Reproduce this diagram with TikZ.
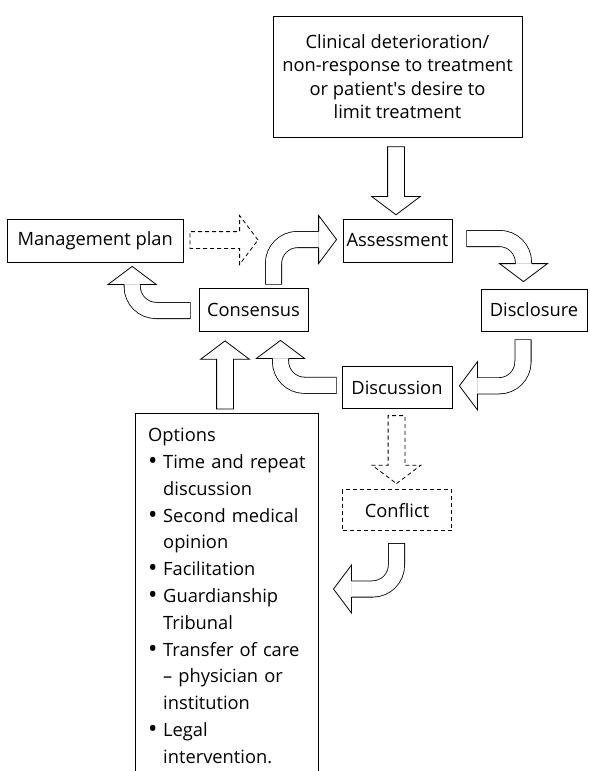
\documentclass[tikz,border=0pt]{standalone}
\usepackage{fontspec}
\setmainfont{Open Sans}
\usetikzlibrary{positioning,calc,shapes.arrows}

\tikzstyle{stage} = [rectangle, draw=black, line width=0.8pt, minimum width=109pt, minimum height=43pt, inner sep=0pt, text centered, font=\fontsize{18.3}{23.3}\selectfont]
\tikzstyle{stagedash} = [stage, dash pattern=on 4pt off 3pt]
\tikzstyle{trigger} = [stage, minimum width=249pt, minimum height=121pt, align=center]
\tikzstyle{optionlist} = [rectangle, inner xsep=13pt, inner ysep=15pt, text width=157pt, align=left, font=\fontsize{18.3}{26.8}\selectfont]
\tikzstyle{fatarrow} = [single arrow, draw=black, line width=0.8pt, fill=white, minimum width=48pt, minimum height=68pt, inner sep=8pt, single arrow head extend=16pt, single arrow tip angle=106]
\tikzstyle{fatdashed} = [fatarrow, dash pattern=on 4pt off 3pt]
\tikzstyle{bendout} = [line width=17pt, draw=black, rounded corners=24pt]
\tikzstyle{bendin} = [line width=15.4pt, draw=white, rounded corners=24pt]

\newcommand{\optbullet}{\makebox[15pt][l]{\raisebox{-1.2pt}{\fontsize{25}{25}\selectfont\textbullet}}}
\newcommand{\optitem}[1]{\mbox{\optbullet#1}}
\newcommand{\optcont}[1]{\mbox{\hspace*{15pt}#1}}

% bent block arrow: tail, corner, base of the head
\newcommand{\bendarrow}[3]{%
  \draw[bendout] (#1) -- (#2) -- (#3);
  \draw[bendin, shorten <=0.8pt] (#1) -- (#2) -- (#3);
  \filldraw[fill=white, line width=0.8pt]
    ($(#3)!8pt!90:(#2)$) -- ($(#3)!24pt!90:(#2)$) -- ($(#3)!-18pt!(#2)$)
    -- ($(#3)!24pt!-90:(#2)$) -- ($(#3)!8pt!-90:(#2)$);
}

\begin{document}
\begin{tikzpicture}[x=1pt, y=-1pt]
\useasboundingbox (0,0) rectangle (589,771);

		% Nodes
		\node (top) [trigger] at (397.5,76.5) {Clinical deterioration/\\non-response to treatment\\or patient\textquotesingle s desire to\\limit treatment};

		\node (assess) [stage] at (397.5,240.5) {Assessment};
		\node (mgmt) [stage, minimum width=176pt, left=159pt of assess] {Management plan};

		\node (consensus) [stage] at (253.5,309.5) {Consensus};
		\node (disclosure) [stage, minimum width=106pt, minimum height=42pt] at (534,310) {Disclosure};

		\node (discussion) [stage, minimum width=110pt, minimum height=42pt, below=104pt of assess, xshift=-0.5pt] {Discussion};
		\node (conflict) [stagedash, minimum height=41pt, below=80pt of discussion] {Conflict};

		\node (options) [optionlist, anchor=north west] at (135,413) {Options\\
			\optitem{Time and repeat}\\ \optcont{discussion}\\
			\optitem{Second medical}\\ \optcont{opinion}\\
			\optitem{Facilitation}\\
			\optitem{Guardianship}\\ \optcont{Tribunal}\\
			\optitem{Transfer of care}\\ \optcont{-- physician or}\\ \optcont{institution}\\
			\optitem{Legal}\\ \optcont{intervention.}};
		\coordinate (floor) at (0,771);
		\draw [line width=0.8pt] (options.north west |- floor) |- (options.north east) -- (options.north east |- floor);

		% Arrows
		\node (a_top) [fatarrow, shape border rotate=270, anchor=tail] at ($(top.south)+(-1.5,9)$) {};
		\node (a_plan) [fatdashed, anchor=tail] at ($(mgmt.east)+(6,-0.5)$) {};
		\node (a_conflict) [fatdashed, shape border rotate=270, anchor=tail] at ($(discussion.south)+(-0.5,6)$) {};
		\node (a_options) [fatarrow, shape border rotate=90, anchor=tip] at ($(consensus.south)+(-28.5,9)$) {};

		\coordinate (t1) at ($(consensus.west)+(-8,1)$);
		\coordinate (h1) at ($(mgmt.south)+(37,22)$);
		\bendarrow{t1}{t1 -| h1}{h1}

		\coordinate (t2) at ($(consensus.north)+(20,-3)$);
		\coordinate (h2) at ($(assess.west)+(-24,-1)$);
		\bendarrow{t2}{t2 |- h2}{h2}

		\coordinate (t3) at ($(assess.east)+(14,-2)$);
		\coordinate (h3) at ($(disclosure.north)+(-10.5,-25)$);
		\bendarrow{t3}{t3 -| h3}{h3}

		\coordinate (t4) at ($(disclosure.south)+(-11,8)$);
		\coordinate (h4) at ($(discussion.east)+(25,-2)$);
		\bendarrow{t4}{t4 |- h4}{h4}

		\coordinate (t5) at ($(discussion.west)+(-5,-2.5)$);
		\coordinate (h5) at ($(consensus.south)+(27,27)$);
		\bendarrow{t5}{t5 -| h5}{h5}

		\coordinate (t6) at ($(conflict.south)+(-0.5,12)$);
		\coordinate (h6) at ($(conflict.south)+(-45.5,58)$);
		\bendarrow{t6}{t6 |- h6}{h6}
\end{tikzpicture}
\end{document}
